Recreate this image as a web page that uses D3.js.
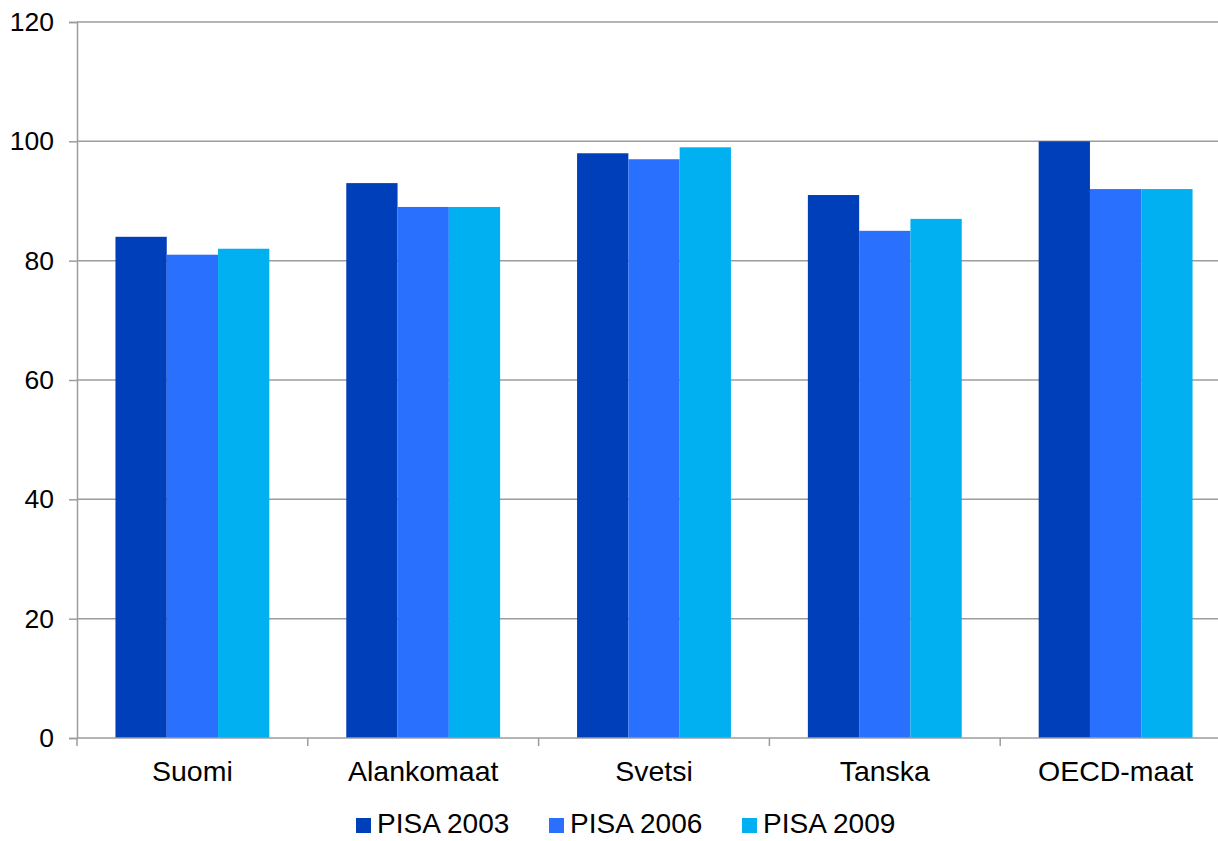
<!DOCTYPE html>
<html>
<head>
<meta charset="utf-8">
<script src="https://cdn.jsdelivr.net/npm/d3@7"></script>
<style>
  body { margin: 0; background: #fff; }
  svg { display: block; font-family: Arial, "Liberation Sans", sans-serif; }
</style>
</head>
<body>
<div id="chart"></div>
<script>
const categories = ["Suomi", "Alankomaat", "Svetsi", "Tanska", "OECD-maat"];
const seriesNames = ["PISA 2003", "PISA 2006", "PISA 2009"];
const pisa2003 = [84, 93, 98, 91, 100];
const pisa2006 = [81, 89, 97, 85, 92];
const pisa2009 = [82, 89, 99, 87, 92];
const yTicks = [0, 20, 40, 60, 80, 100, 120];
const colors = ["#003FBA", "#2970FF", "#00B0F0"];

const seriesValues = [pisa2003, pisa2006, pisa2009];
const data = categories.map((c, i) => ({
    category: c,
    values: seriesNames.map((s, j) => ({ series: s, value: seriesValues[j][i] }))
}));

const width = 1218, height = 841;
const plotLeft = 77, plotTop = 22, plotBottom = 738;
const bandW = 230.8;

const svg = d3.select("#chart").append("svg")
    .attr("width", width)
    .attr("height", height);

const x0 = d3.scaleBand()
    .domain(categories)
    .range([plotLeft, plotLeft + bandW * categories.length]);

const x1 = d3.scaleBand()
    .domain(seriesNames)
    .range([bandW / 6, bandW * 5 / 6]);

const y = d3.scaleLinear()
    .domain([0, 120])
    .range([plotBottom, plotTop]);

const color = d3.scaleOrdinal().domain(seriesNames).range(colors);

// gridlines
svg.append("g")
    .selectAll("line")
    .data(yTicks.filter(d => d > 0))
    .join("line")
    .attr("x1", plotLeft)
    .attr("x2", width)
    .attr("y1", d => y(d))
    .attr("y2", d => y(d))
    .attr("stroke", "#9c9c9c")
    .attr("stroke-width", 1.5);

// bars
svg.append("g")
    .selectAll("g")
    .data(data)
    .join("g")
    .attr("transform", d => `translate(${x0(d.category)},0)`)
    .selectAll("rect")
    .data(d => d.values)
    .join("rect")
    .attr("x", d => x1(d.series))
    .attr("width", x1.bandwidth())
    .attr("y", d => y(d.value))
    .attr("height", d => y(0) - y(d.value))
    .attr("fill", d => color(d.series));

// y axis
const yAxis = svg.append("g")
    .attr("transform", `translate(${plotLeft},0)`)
    .call(d3.axisLeft(y).tickValues(yTicks).tickSize(8).tickPadding(15));
yAxis.select(".domain").attr("stroke", "#9c9c9c").attr("stroke-width", 1.5);
yAxis.selectAll(".tick line").attr("stroke", "#9c9c9c").attr("stroke-width", 1.5);
yAxis.selectAll(".tick text")
    .attr("font-size", 26.5)
    .attr("fill", "#000")
    .attr("font-family", "Arial, 'Liberation Sans', sans-serif");

// x axis
const xAxis = svg.append("g")
    .attr("transform", `translate(0,${plotBottom})`);
xAxis.append("line")
    .attr("x1", plotLeft)
    .attr("x2", width)
    .attr("stroke", "#9c9c9c")
    .attr("stroke-width", 1.5);
xAxis.selectAll(".xtick")
    .data(categories)
    .join("line")
    .attr("class", "xtick")
    .attr("x1", d => x0(d))
    .attr("x2", d => x0(d))
    .attr("y1", 0)
    .attr("y2", 8)
    .attr("stroke", "#9c9c9c")
    .attr("stroke-width", 1.5);
xAxis.selectAll(".xlabel")
    .data(categories)
    .join("text")
    .attr("class", "xlabel")
    .attr("x", d => x0(d) + x0.bandwidth() / 2)
    .attr("y", 43)
    .attr("text-anchor", "middle")
    .attr("font-size", 28.5)
    .attr("fill", "#000")
    .text(d => d);

// legend
const legendX = [356, 549, 742];
const legend = svg.append("g")
    .selectAll("g")
    .data(seriesNames)
    .join("g")
    .attr("transform", (d, i) => `translate(${legendX[i]},818)`);
legend.append("rect")
    .attr("width", 15)
    .attr("height", 15)
    .attr("fill", d => color(d));
legend.append("text")
    .attr("x", 21)
    .attr("y", 15)
    .attr("font-size", 28)
    .attr("fill", "#000")
    .text(d => d);
</script>
</body>
</html>
